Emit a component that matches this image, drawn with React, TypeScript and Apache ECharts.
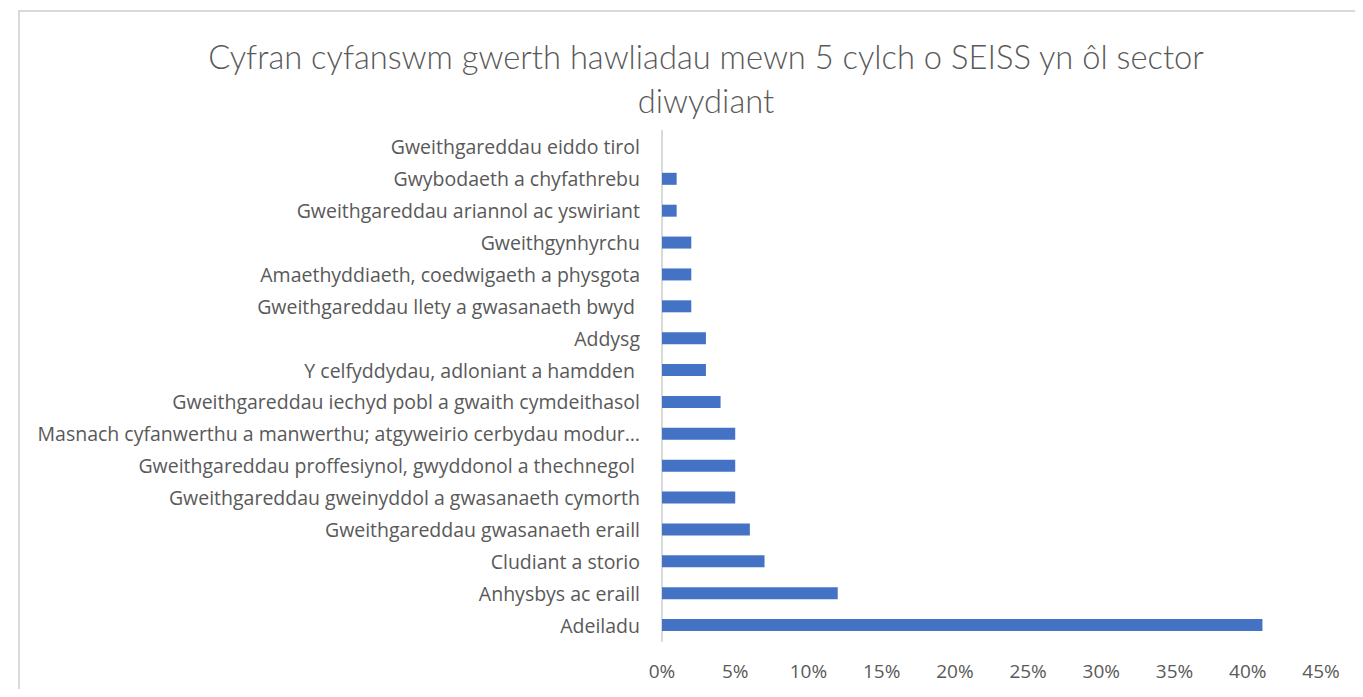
import React, { useEffect, useRef } from "react";
import * as echarts from "echarts";

const titleText = "Cyfran cyfanswm gwerth hawliadau mewn 5 cylch o SEISS yn ôl sector\ndiwydiant";

// bottom to top
const categories = [
  "Adeiladu",
  "Anhysbys ac eraill",
  "Cludiant a storio",
  "Gweithgareddau gwasanaeth eraill",
  "Gweithgareddau gweinyddol a gwasanaeth cymorth",
  "Gweithgareddau proffesiynol, gwyddonol a thechnegol ",
  "Masnach cyfanwerthu a manwerthu; atgyweirio cerbydau modur…",
  "Gweithgareddau iechyd pobl a gwaith cymdeithasol",
  "Y celfyddydau, adloniant a hamdden ",
  "Addysg",
  "Gweithgareddau llety a gwasanaeth bwyd ",
  "Amaethyddiaeth, coedwigaeth a physgota",
  "Gweithgynhyrchu",
  "Gweithgareddau ariannol ac yswiriant",
  "Gwybodaeth a chyfathrebu",
  "Gweithgareddau eiddo tirol",
];

const shares = [41, 12, 7, 6, 5, 5, 5, 4, 3, 3, 2, 2, 2, 1, 1, 0];

const xMin = 0;
const xMax = 45;
const xInterval = 5;

const FONT = "'Open Sans', sans-serif";
const TITLE_FONT = "Lato, sans-serif";
const GREY = "#595959";

export default function App() {
  const ref = useRef<HTMLDivElement>(null);
  useEffect(() => {
    if (!ref.current) return;
    const chart = echarts.init(ref.current, undefined, { renderer: "svg" });
    chart.setOption({
      animation: false,
      backgroundColor: "#ffffff",
      textStyle: { fontFamily: FONT },
      graphic: [
        {
          type: "rect",
          shape: { x: 11, y: 3, width: 3000, height: 3000 },
          style: { fill: "none", stroke: "#d9d9d9", lineWidth: 2 },
          silent: true,
          z: -10,
        },
      ],
      title: {
        text: titleText,
        left: 693,
        top: 21,
        textAlign: "center",
        textStyle: {
          fontFamily: TITLE_FONT,
          fontWeight: 300,
          fontSize: 32.7,
          lineHeight: 44,
          color: GREY,
        },
      },
      grid: { left: 654, right: 34, top: 123, bottom: 48, containLabel: false },
      xAxis: {
        type: "value",
        min: xMin,
        max: xMax,
        interval: xInterval,
        axisLine: { show: false },
        axisTick: { show: false },
        splitLine: { show: false },
        axisLabel: {
          formatter: "{value}%",
          color: GREY,
          fontSize: 19,
          fontFamily: FONT,
          margin: 20,
        },
      },
      yAxis: {
        type: "category",
        data: categories,
        axisLine: { show: true, lineStyle: { color: "#d9d9d9", width: 2 } },
        axisTick: { show: false },
        axisLabel: {
          color: GREY,
          fontSize: 19.5,
          fontFamily: FONT,
          margin: 22,
          interval: 0,
        },
      },
      series: [
        {
          type: "bar",
          data: shares,
          barWidth: 12,
          itemStyle: { color: "#4472C4" },
        },
      ],
    });
    return () => chart.dispose();
  }, []);
  return <div ref={ref} style={{ width: 1347, height: 681 }} />;
}
